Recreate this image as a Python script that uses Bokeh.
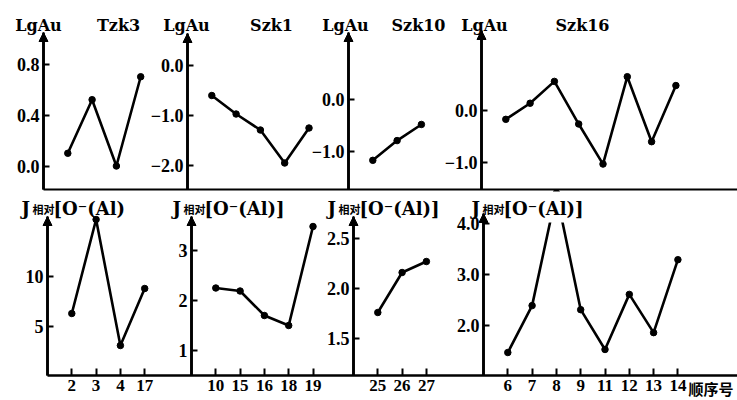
from bokeh.plotting import figure
from bokeh.models import (Range1d, LinearAxis, FixedTicker, Label, Arrow, NormalHead,
                          BoxAnnotation)
from bokeh.embed import file_html
from bokeh.resources import INLINE

# ---------------- data ----------------
well_names = ["Tzk3", "Szk1", "Szk10", "Szk16"]
tzk3_samples = ["2", "3", "4", "17"]
szk1_samples = ["10", "15", "16", "18", "19"]
szk10_samples = ["25", "26", "27"]
szk16_samples = ["6", "7", "8", "9", "11", "12", "13", "14"]

tzk3_lgau = [0.10, 0.52, 0.00, 0.70]
szk1_lgau = [-0.61, -0.98, -1.30, -1.96, -1.26]
szk10_lgau = [-1.17, -0.79, -0.48]
szk16_lgau = [-0.17, 0.14, 0.56, -0.26, -1.03, 0.65, -0.60, 0.48]

tzk3_j = [6.3, 15.7, 3.1, 8.8]
szk1_j = [2.25, 2.19, 1.70, 1.50, 3.48]
szk10_j = [1.76, 2.16, 2.27]
szk16_j = [1.47, 2.39, 4.6, 2.31, 1.53, 2.61, 1.86, 3.29]

lgau_ticks = [[0.0, 0.4, 0.8], [0.0, -1.0, -2.0], [0.0, -1.0], [0.0, -1.0]]
lgau_tick_labels = [["0.0", "0.4", "0.8"], ["0.0", "−1.0", "−2.0"],
                    ["0.0", "−1.0"], ["0.0", "−1.0"]]
j_ticks = [[5, 10], [1, 2, 3], [1.5, 2.0, 2.5], [2.0, 3.0, 4.0]]
j_tick_labels = [["5", "10"], ["1", "2", "3"], ["1.5", "2.0", "2.5"], ["2.0", "3.0", "4.0"]]

lgau_label = "LgAu"
j_main = "J"
j_sub = "相对"
j_tail = ["[O⁻(Al)", "[O⁻(Al)]", "[O⁻(Al)]", "[O⁻(Al)]"]
x_title = "顺序号"

samples = [tzk3_samples, szk1_samples, szk10_samples, szk16_samples]
lgau = [tzk3_lgau, szk1_lgau, szk10_lgau, szk16_lgau]
jrel = [tzk3_j, szk1_j, szk10_j, szk16_j]

# ---------------- layout constants (pixels) ----------------
W, H = 737, 400
STEP = 24.3                      # px per sample step
SERIF = "DejaVu Serif"
TIMES = "Liberation Serif"
CJK = "Noto Sans CJK SC"

# top row (LgAu)
top_axis_x = [43, 187, 348, 481]
top_cal = [(0.0, 165.5, 127.5), (0.0, 64.5, 50.0), (0.0, 99.0, 52.0), (0.0, 110.0, 52.0)]
top_axis_bottom = 189
top_axis_top = [32, 33, 32, 30]
lg_center = [38, 186, 345, 484]
title_center = [118, 271, 418, 582]
top_text_base = 25

# bottom row (J relative)
bot_axis_x = [47, 191, 353, 483]
bot_cal = [(10.0, 276.0, 10.0), (3.0, 250.0, 50.0), (2.5, 238.0, 100.0), (3.0, 274.0, 51.0)]
bot_axis_bottom = 375
bot_axis_top = [216, 216, 216, 213]
j_left = [21, 172, 327, 471]
j_text_base = 208


def dx(axis_px, px):
    return -1 + (px - axis_px) / STEP


def dy(cal, py):
    v0, y0, k = cal
    return v0 + (y0 - py) / k


def xr(axis_px):
    return Range1d(start=dx(axis_px, 0), end=dx(axis_px, W))


def yr(cal):
    return Range1d(start=dy(cal, H), end=dy(cal, 0))


names_top = ["default", "t1", "t2", "t3"]
names_bot = ["b0", "b1", "b2", "b3"]
xranges = {}
yranges = {}
for i in range(4):
    xranges[names_top[i]] = xr(top_axis_x[i])
    yranges[names_top[i]] = yr(top_cal[i])
    xranges[names_bot[i]] = xr(bot_axis_x[i])
    yranges[names_bot[i]] = yr(bot_cal[i])

p = figure(width=W, height=H, x_range=xranges["default"], y_range=yranges["default"],
           x_axis_type=None, y_axis_type=None, toolbar_location=None,
           output_backend="svg", min_border=0, min_border_left=0, min_border_right=0,
           min_border_top=0, min_border_bottom=0, title=None)
p.outline_line_color = None
p.background_fill_color = "white"
p.extra_x_ranges = {k: v for k, v in xranges.items() if k != "default"}
p.extra_y_ranges = {k: v for k, v in yranges.items() if k != "default"}


def tfont(lbl, font, size, bold=True):
    lbl.text_font = font
    lbl.text_font_size = size
    lbl.text_font_style = "bold" if bold else "normal"
    lbl.text_color = "black"
    lbl.level = "overlay"
    return lbl


# ---- glyphs ----
rows = [(names_top, lgau), (names_bot, jrel)]
for names, vals in rows:
    for i in range(4):
        n = names[i]
        xs = list(range(len(samples[i])))
        p.line(xs, vals[i], x_range_name=n, y_range_name=n,
               line_color="black", line_width=2.6)
        p.scatter(xs, vals[i], x_range_name=n, y_range_name=n, size=6.5, color="black")

# mask: the off-scale peak of Szk16 is cut at the top of its axis
p.add_layout(BoxAnnotation(left=dx(bot_axis_x[3], bot_axis_x[3] + 4),
                           right=xranges["b3"].end,
                           bottom=dy(bot_cal[3], 222), top=dy(bot_cal[3], 191),
                           x_range_name="b3", y_range_name="b3",
                           fill_color="white", fill_alpha=1.0, line_color=None,
                           level="overlay"))


def y_axis(n, cal, bottom_px, top_px, ticks, labels):
    ax = LinearAxis(x_range_name=n, y_range_name=n, fixed_location=-1,
                    bounds=(dy(cal, bottom_px), dy(cal, top_px)),
                    ticker=FixedTicker(ticks=ticks),
                    major_label_overrides={t: l for t, l in zip(ticks, labels)},
                    axis_line_width=2.6, axis_line_color="black",
                    major_tick_in=6, major_tick_out=0, major_tick_line_width=2,
                    minor_tick_in=0, minor_tick_out=0,
                    major_label_standoff=4,
                    major_label_text_font=TIMES, major_label_text_font_style="bold",
                    major_label_text_font_size="18px", major_label_text_color="black")
    p.add_layout(ax, "left")
    p.add_layout(Arrow(x_start=-1, y_start=dy(cal, bottom_px), x_end=-1, y_end=dy(cal, top_px),
                       x_range_name=n, y_range_name=n, line_width=2.6, line_color="black",
                       level="overlay",
                       end=NormalHead(size=9, fill_color="black", line_color="black")))


# ---- top row axes & texts ----
for i in range(4):
    n = names_top[i]
    y_axis(n, top_cal[i], top_axis_bottom, top_axis_top[i], lgau_ticks[i], lgau_tick_labels[i])
    p.add_layout(tfont(Label(x=dx(top_axis_x[i], lg_center[i]), y=dy(top_cal[i], top_text_base),
                             x_range_name=n, y_range_name=n, text=lgau_label,
                             text_align="center", text_baseline="alphabetic"), SERIF, "16px"))
    p.add_layout(tfont(Label(x=dx(top_axis_x[i], title_center[i]), y=dy(top_cal[i], top_text_base),
                             x_range_name=n, y_range_name=n, text=well_names[i],
                             text_align="center", text_baseline="alphabetic"), SERIF, "16px"))

p.add_layout(LinearAxis(x_range_name="default", y_range_name="default",
                        fixed_location=dy(top_cal[0], top_axis_bottom),
                        bounds=(-1, xranges["default"].end),
                        ticker=FixedTicker(ticks=[]), axis_line_width=2.2,
                        axis_line_color="black", major_tick_in=0, major_tick_out=0,
                        minor_tick_in=0, minor_tick_out=0,
                        major_label_text_font_size="0px"), "below")

# ---- bottom row axes & texts ----
for i in range(4):
    n = names_bot[i]
    cats = samples[i]
    y_axis(n, bot_cal[i], bot_axis_bottom, bot_axis_top[i], j_ticks[i], j_tick_labels[i])
    bx = LinearAxis(x_range_name=n, y_range_name=n,
                    fixed_location=dy(bot_cal[i], bot_axis_bottom),
                    ticker=FixedTicker(ticks=list(range(len(cats)))),
                    major_label_overrides={k: c for k, c in enumerate(cats)},
                    axis_line_width=2.4,
                    axis_line_color="black" if i == 0 else None,
                    major_tick_in=7, major_tick_out=0, major_tick_line_width=2,
                    minor_tick_in=0, minor_tick_out=0, major_label_standoff=4,
                    major_label_text_font=TIMES, major_label_text_font_style="bold",
                    major_label_text_font_size="17px", major_label_text_color="black")
    if i == 0:
        bx.bounds = (-1, xranges[n].end)
    p.add_layout(bx, "below")
    yb = dy(bot_cal[i], j_text_base)
    p.add_layout(tfont(Label(x=dx(bot_axis_x[i], j_left[i]), y=yb, x_range_name=n,
                             y_range_name=n, text=j_main, text_align="left",
                             text_baseline="alphabetic"), SERIF, "18px"))
    p.add_layout(tfont(Label(x=dx(bot_axis_x[i], j_left[i] + 11), y=yb + 0.0, x_range_name=n,
                             y_range_name=n, text=j_sub, text_align="left",
                             text_baseline="alphabetic"), CJK, "11px"))
    p.add_layout(tfont(Label(x=dx(bot_axis_x[i], j_left[i] + 32), y=yb, x_range_name=n,
                             y_range_name=n, text=j_tail[i], text_align="left",
                             text_baseline="alphabetic"), SERIF, "18px"))

p.add_layout(tfont(Label(x=dx(bot_axis_x[3], 688), y=dy(bot_cal[3], 388),
                         x_range_name="b3", y_range_name="b3", text=x_title,
                         text_align="left", text_baseline="middle"), CJK, "15px"))

open("out.html", "w").write(file_html(p, INLINE))
